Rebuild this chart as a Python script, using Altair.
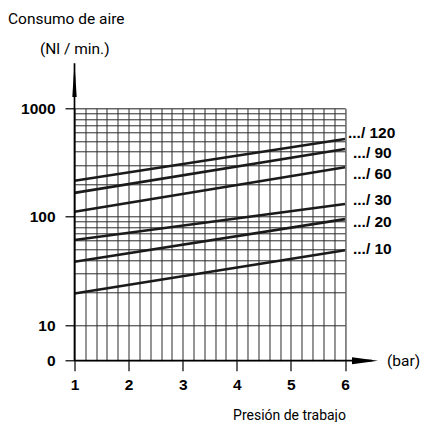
import altair as alt
import pandas as pd

# ---- data ----
series_names = [".../ 120", ".../ 90", ".../ 60", ".../ 30", ".../ 20", ".../ 10"]
pressure_start = 1
pressure_end = 6
flow_at_start = [215, 166, 111, 61, 38.5, 19.6]
flow_at_end = [521, 421, 286, 131, 95, 49]
label_anchor = [592, 387, 248, 143, 89, 50.4]

x_tick_labels = [1, 2, 3, 4, 5, 6]
y_tick_labels = [10, 100, 1000]
Y_MIN = 4.7   # position labelled "0"
Y_MAX = 1000
X_MIN, X_MAX = 1, 6

# grid positions (every 0.2 bar, every unit inside each decade)
x_grid = [round(X_MIN + 0.2 * i, 1) for i in range(26)]
y_grid = [m * d for d in (10, 100) for m in range(1, 10)] + [1000]
y_axis_vals = [Y_MIN] + y_grid

rows = []
for n, a, b in zip(series_names, flow_at_start, flow_at_end):
    rows.append({"name": n, "x": pressure_start, "y": a})
    rows.append({"name": n, "x": pressure_end, "y": b})
lines_df = pd.DataFrame(rows)
labels_df = pd.DataFrame({"name": series_names, "x": [pressure_end] * 6, "y": label_anchor})

xscale = alt.Scale(domain=[X_MIN, X_MAX], zero=False, nice=False)
yscale = alt.Scale(type="log", domain=[Y_MIN, Y_MAX], nice=False)

is_int = "abs(datum.value - round(datum.value)) < 0.01"
is_major = "datum.value < 5 || datum.value == 10 || datum.value == 100 || datum.value == 1000"

x_axis = alt.Axis(
    values=x_grid, tickCount=60, grid=True, gridColor="#2a2a2a", gridWidth=1, domain=False,
    ticks=True, tickSize=10, tickColor="black", tickWidth=1.2,
    tickOpacity={"condition": {"test": is_int, "value": 1}, "value": 0},
    labelExpr=f"{is_int} ? format(datum.value, 'd') : ''",
    labelFont="Liberation Sans", labelFontWeight="bold", labelFontSize=15.5,
    labelColor="black", labelPadding=7, labelFlush=False, labelOverlap=False,
    title="Presión de trabajo", titleFont="Roboto", titleFontSize=14,
    titleFontWeight="normal", titleColor="black", titleX=214.5, titleY=58.5,
    titleAlign="center", titleBaseline="alphabetic",
)
y_axis = alt.Axis(
    values=y_axis_vals, tickCount=60, grid=True, gridColor="#2a2a2a", gridWidth=1,
    gridOpacity={"condition": {"test": "datum.value < 5", "value": 0}, "value": 1},
    domain=False, ticks=True, tickSize=9.5, tickColor="black", tickWidth=1.2,
    tickOpacity={"condition": {"test": is_major, "value": 1}, "value": 0},
    labelExpr="datum.value < 5 ? '0' : (datum.value == 10 || datum.value == 100 || datum.value == 1000) ? format(datum.value, 'd') : ''",
    labelFont="Liberation Sans", labelFontWeight="bold", labelFontSize=15.5,
    labelColor="black", labelPadding=10, labelAlign="right", labelBaseline="middle",
    labelOverlap=False, labelBound=False, title=None,
)

base_grid = alt.Chart(lines_df).mark_line(strokeWidth=0, opacity=0).encode(
    x=alt.X("x:Q", scale=xscale, axis=x_axis),
    y=alt.Y("y:Q", scale=yscale, axis=y_axis),
    detail="name:N",
)

lines = alt.Chart(lines_df).mark_line(color="#1a1a1a", strokeWidth=2.6).encode(
    x=alt.X("x:Q", scale=xscale),
    y=alt.Y("y:Q", scale=yscale),
    detail="name:N",
)

text_style = dict(font="Liberation Sans", fontWeight="bold", fontSize=15.5,
                  color="black", align="left", baseline="middle")
labels_first = alt.Chart(labels_df).transform_filter(
    alt.datum.name == series_names[0]
).mark_text(dx=3, **text_style).encode(
    x=alt.X("x:Q", scale=xscale), y=alt.Y("y:Q", scale=yscale), text="name:N"
)
labels_rest = alt.Chart(labels_df).transform_filter(
    alt.datum.name != series_names[0]
).mark_text(dx=8, **text_style).encode(
    x=alt.X("x:Q", scale=xscale), y=alt.Y("y:Q", scale=yscale), text="name:N"
)

# axis lines with arrows
x_line = alt.Chart(pd.DataFrame({"x": [X_MIN], "x2": [6.5], "y": [Y_MIN]})).mark_rule(
    color="black", strokeWidth=1.7
).encode(x=alt.X("x:Q", scale=xscale), x2="x2:Q", y=alt.Y("y:Q", scale=yscale))
y_line = alt.Chart(pd.DataFrame({"x": [X_MIN], "y": [Y_MIN], "y2": [2600]})).mark_rule(
    color="black", strokeWidth=1.7
).encode(x=alt.X("x:Q", scale=xscale), y=alt.Y("y:Q", scale=yscale), y2="y2:Q")

x_arrow = alt.Chart(pd.DataFrame({"x": [6.37], "y": [Y_MIN]})).mark_point(
    shape="M1,0L-1,-0.27L-1,0.27Z", filled=True, size=676, color="black", opacity=1
).encode(x=alt.X("x:Q", scale=xscale), y=alt.Y("y:Q", scale=yscale))
y_arrow = alt.Chart(pd.DataFrame({"x": [X_MIN], "y": [1824]})).mark_point(
    shape="M0,-1L0.13,1L-0.13,1Z", filled=True, size=1156, color="black", opacity=1
).encode(x=alt.X("x:Q", scale=xscale), y=alt.Y("y:Q", scale=yscale))

one = pd.DataFrame({"a": [0]})
ann_style = dict(font="Roboto", fontSize=15.5, color="black", align="left", baseline="alphabetic")
t1 = alt.Chart(one).mark_text(text="Consumo de aire", **ann_style).encode(
    x=alt.value(-66.5), y=alt.value(-84.3))
t2 = alt.Chart(one).mark_text(text="(Nl / min.)", **ann_style).encode(
    x=alt.value(-34.5), y=alt.value(-54.3))
t3 = alt.Chart(one).mark_text(text="(bar)", **ann_style).encode(
    x=alt.value(312.5), y=alt.value(257.7))

chart = alt.layer(
    base_grid, lines, labels_first, labels_rest, x_line, y_line, x_arrow, y_arrow, t1, t2, t3
).properties(
    width=270.5, height=252.4,
    autosize=alt.AutoSizeParams(type="none"),
    padding={"left": 66.5, "top": 100.3, "right": 76, "bottom": 61},
).configure_view(stroke=None).configure(background="white")

chart.save("out.html", embed_options={"renderer": "svg", "actions": False})
